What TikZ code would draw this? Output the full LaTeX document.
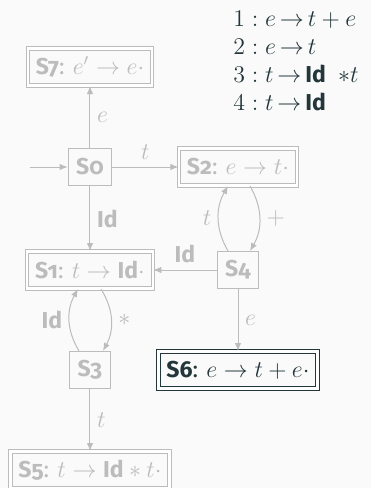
\documentclass[tikz,border=0pt]{standalone}
\usepackage{fontspec}
\setmainfont{Fira Sans}[Numbers=OldStyle]
\usetikzlibrary{arrows.meta,positioning}
\definecolor{mDark}{HTML}{23373B}
\definecolor{faded}{HTML}{BCBCBC}
\definecolor{canvas}{HTML}{FAFAFA}

\begin{document}
\begin{tikzpicture}[
      font=\fontsize{11.5}{14}\selectfont,
      node distance=50pt and 74pt, on grid,
      state/.style={rectangle, draw=faded, text=faded, line width=0.5pt, minimum height=18.5pt, inner sep=4pt},
      accept/.style={state, double, double distance=1.2pt},
      move/.style={-{Latex[length=4pt,width=3.2pt]}, draw=faded, line width=0.5pt},
      lbl/.style={text=faded}
    ]
      \fill[canvas] (-45pt,-160.5pt) rectangle (140.5pt,83.5pt);
      \useasboundingbox (-45pt,-160.5pt) rectangle (140.5pt,83.5pt);
      \node[state] (s0) {\textbf{S0}};
      \node[accept, above=of s0] (s7) {\textbf{S7}: $e' \to e\cdot$};
      \node[accept, right=of s0] (s2) {\textbf{S2}: $e \to t\cdot$};
      \node[accept, below=51.5pt of s0] (s1) {\textbf{S1}: $t \to \textbf{Id}\cdot$};
      \node[state, below=51.5pt of s2] (s4) {\textbf{S4}};
      \node[state, below=of s1] (s3) {\textbf{S3}};
      \node[accept, below=of s3] (s5) {\textbf{S5}: $t \to \textbf{Id} * t\cdot$};
      \node[accept, draw=mDark, text=mDark, below=of s4] (s6) {\textbf{S6}: $e \to t + e\cdot$};
      \coordinate[left=30pt of s0] (start);
      \node[anchor=west, align=left, text=mDark, inner sep=0pt] (rules) at (71.5pt,53pt)
        {$1: e\,{\to}\,t + e$\\ $2: e\,{\to}\,t$\\ $3: t\,{\to}\,$\textbf{Id}\ \ $*t$\\ $4: t\,{\to}\,$\textbf{Id}};
      \draw[move] (start) -- (s0);
      \draw[move] (s0) -- node[lbl, right]{$e$} (s7);
      \draw[move] (s0) -- node[lbl, above]{$t$} (s2);
      \draw[move] (s0) -- node[lbl, right]{\textbf{Id}} (s1);
      \draw[move] (s4) -- node[lbl, above]{\textbf{Id}} (s1);
      \draw[move] (s4) -- node[lbl, right]{$e$} (s6);
      \draw[move] (s3) -- node[lbl, right]{$t$} (s5);
      \draw[move] ([xshift=-5pt]s4.north) to[bend left=30] node[lbl, left]{$t$} ([xshift=-5pt]s2.south);
      \draw[move] ([xshift=6pt]s2.south) to[bend left=30] node[lbl, right]{$+$} ([xshift=6pt]s4.north);
      \draw[move] ([xshift=-5.5pt]s3.north) to[bend left=30] node[lbl, left]{\textbf{Id}} ([xshift=-6pt]s1.south);
      \draw[move] ([xshift=5.5pt]s1.south) to[bend left=30] node[lbl, right]{$*$} ([xshift=6.5pt]s3.north);
    \end{tikzpicture}
\end{document}
